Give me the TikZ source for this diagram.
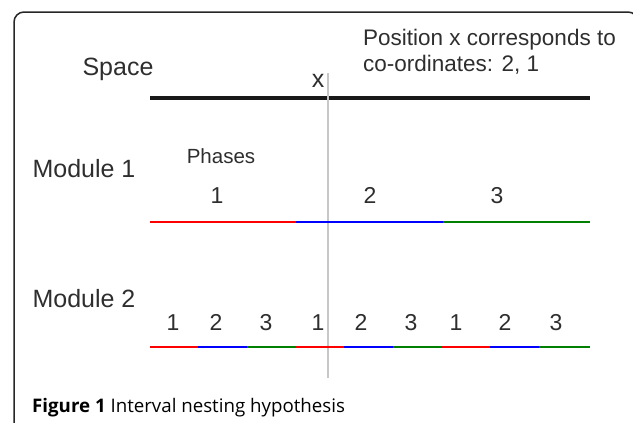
\documentclass[tikz,border=0pt]{standalone}
\usepackage{fontspec}
\setmainfont{Liberation Sans}
\newfontfamily\capfont{Open Sans}
\usepackage{tikz}
\usetikzlibrary{positioning}

\begin{document}
\begin{tikzpicture}[x=1pt, y=-1pt,
    lbl/.style={anchor=base, inner sep=0pt, text=black!82, font=\fontsize{25}{30}\selectfont},
    num/.style={anchor=base, inner sep=0pt, text=black!82, font=\fontsize{23}{28}\selectfont},
    seg/.style={line width=2.6pt},
    phred/.style={seg, draw={rgb,255:red,255;green,0;blue,0}},
    phblue/.style={seg, draw={rgb,255:red,0;green,0;blue,255}},
    phgreen/.style={seg, draw={rgb,255:red,0;green,128;blue,0}}]
  \useasboundingbox (0,0) rectangle (633,423);
  % Frame
  \begin{scope}
    \clip (0,0) rectangle (633,423);
    \draw[line width=1.5pt, black!85, rounded corners=10pt] (14,12) rectangle (638,434);
  \end{scope}
  % Space
  \node[lbl] (space) at (118,75) {Space};
  \node[lbl] (xpos) at (318,87) {x};
  \node[anchor=base west, align=left, inner sep=0pt, text=black!82,
        font=\fontsize{22.5}{26}\selectfont] (note) at (363,71)
        {Position x corresponds to\\co-ordinates: 2, 1};
  \draw[line width=4pt, black!90] (150,97.5) -- (590,97.5);
  % Position marker
  \draw[line width=1.8pt, black!22] (328,73) -- (328,378);
  % Module 1
  \node[lbl] (mod1) at (84,177) {Module 1};
  \node[anchor=base, inner sep=0pt, text=black!82, font=\fontsize{20.5}{24}\selectfont] (phases) at (221,163) {Phases};
  \node[num] (p1) at (217,203) {1};
  \node[num] (p2) at (370,203) {2};
  \node[num] (p3) at (497,203) {3};
  \draw[phred]   (150,222) -- (296,222);
  \draw[phblue]  (296,222) -- (443,222);
  \draw[phgreen] (443,222) -- (590,222);
  % Module 2
  \node[lbl] (mod2) at (84,307) {Module 2};
  \node[num] (q1) at (173,330) {1};
  \node[num] (q2) at (216,330) {2};
  \node[num] (q3) at (266,330) {3};
  \node[num] (q4) at (318,330) {1};
  \node[num] (q5) at (361,330) {2};
  \node[num] (q6) at (411,330) {3};
  \node[num] (q7) at (456,330) {1};
  \node[num] (q8) at (505,330) {2};
  \node[num] (q9) at (556,330) {3};
  \draw[phred]   (150,347) -- (198,347);
  \draw[phblue]  (198,347) -- (247,347);
  \draw[phgreen] (247,347) -- (296,347);
  \draw[phred]   (296,347) -- (344,347);
  \draw[phblue]  (344,347) -- (393,347);
  \draw[phgreen] (393,347) -- (442,347);
  \draw[phred]   (442,347) -- (490,347);
  \draw[phblue]  (490,347) -- (539,347);
  \draw[phgreen] (539,347) -- (590,347);
  % Caption
  \node[anchor=base west, inner sep=0pt, font=\capfont\fontsize{18.7}{22}\selectfont] (caption) at (32,412)
        {\textbf{Figure 1} Interval nesting hypothesis};
\end{tikzpicture}
\end{document}
